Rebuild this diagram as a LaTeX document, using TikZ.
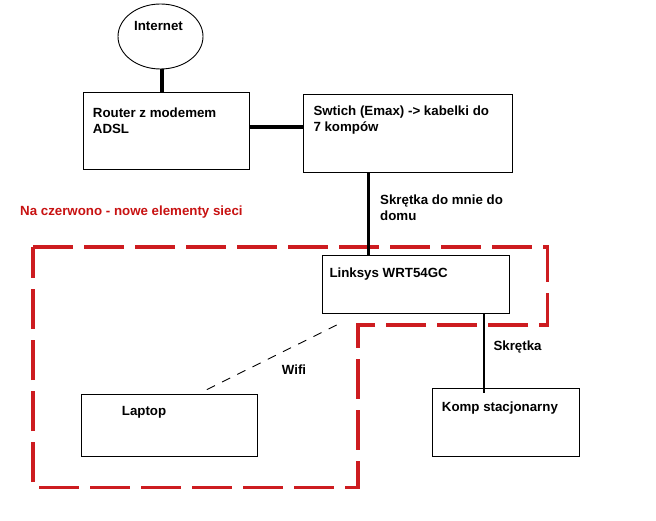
\documentclass[tikz,border=0pt]{standalone}
\usepackage{fontspec}
\setmainfont{Liberation Sans}
\usetikzlibrary{shapes.geometric,calc}
\definecolor{netred}{RGB}{205,28,32}
\definecolor{textred}{RGB}{200,18,18}
\tikzset{
  box/.style={draw=black, line width=1pt, rectangle, inner sep=0pt, anchor=north west},
  lbl/.style={inner sep=0pt, font=\fontsize{13.3}{16}\selectfont\bfseries, anchor=base west},
  mlbl/.style={inner sep=0pt, font=\fontsize{13.3}{16}\selectfont\bfseries, anchor=north west, align=left},
  cable/.style={draw=black, line width=3.3pt},
  thincable/.style={draw=black, line width=2.2pt},
  wifiline/.style={draw=black, line width=0.9pt, dash pattern=on 9pt off 8pt},
  newzone/.style={draw=netred, line width=3.5pt, dash pattern=on 40pt off 11pt, line join=miter}
}
\begin{document}
\begin{tikzpicture}[x=1pt, y=-1pt]
\useasboundingbox (0,0) rectangle (656,521);
\fill[white] (0,0) rectangle (656,521);

% new elements zone
\draw[newzone] (33,247) -- (547.5,247) -- (547.5,325) -- (358,325) -- (358,487.5) -- (33,487.5) -- cycle;

% nodes
\node[draw=black, line width=0.9pt, ellipse, minimum width=85pt, minimum height=65pt, inner sep=0pt] (inet) at (160.5,36.5) {};
\node[lbl, anchor=base] (inettxt) at (158.5,30.7) {Internet};

\node[box, minimum width=166pt, minimum height=77pt] (router) at (83,92) {};
\node[mlbl] (routertxt) at (92.7,107.2) {Router z modemem\\ADSL};

\node[box, minimum width=209pt, minimum height=78pt] (switch) at (303,94) {};
\node[mlbl] (switchtxt) at (313.3,105.6) {Swtich (Emax) -> kabelki do\\7 kompów};

\node[box, minimum width=187pt, minimum height=58pt] (linksys) at (321.5,255.5) {};
\node[lbl] (linksystxt) at (329.3,277.7) {Linksys WRT54GC};

\node[box, minimum width=176pt, minimum height=62pt] (laptop) at (81,394) {};
\node[lbl] (laptoptxt) at (121.7,415.7) {Laptop};

\node[box, minimum width=147pt, minimum height=68pt] (komp) at (431.5,388.3) {};
\node[lbl] (komptxt) at (441.7,411.7) {Komp stacjonarny};

% labels
\node[lbl, text=textred] (legend) at (20,215.7) {Na czerwono - nowe elementy sieci};
\node[mlbl] (cable1txt) at (380,194.4) {Skrętka do mnie do\\domu};
\node[lbl] (cable2txt) at (493.3,350.7) {Skrętka};
\node[lbl] (wifitxt) at (281.7,374) {Wifi};

% connectors
\draw[cable] (inet.south) ++(1.5,0) coordinate (i1) -- (i1 |- router.north);
\coordinate (r1) at ($(router.north east)+(0,35)$);
\draw[cable] (r1) -- (r1 -| switch.west);
\coordinate (s1) at ($(switch.south west)+(65.3,0)$);
\draw[draw=black, line width=2.7pt] (s1) -- (s1 |- linksys.north);
\coordinate (l1) at ($(linksys.south west)+(162.3,0)$);
\draw[thincable] (l1) -- ($(l1 |- komp.north)+(0,5)$);
\coordinate (w1) at (336.7,325);
\coordinate (w2) at (204,391);
\draw[wifiline] (w1) -- (w2);
\end{tikzpicture}
\end{document}
